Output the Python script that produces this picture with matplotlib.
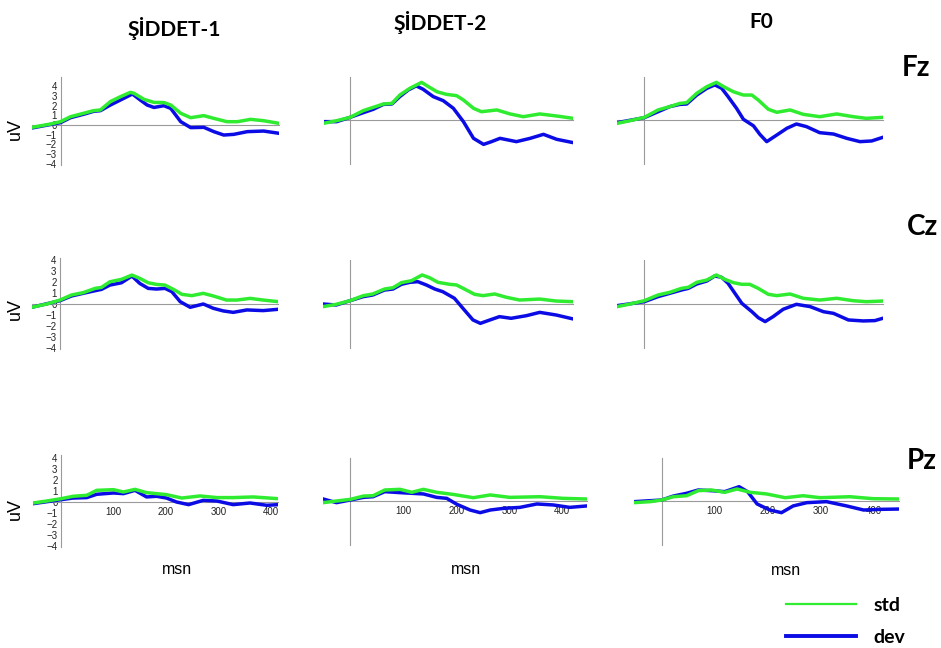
import matplotlib

matplotlib.use("Agg")
import matplotlib.pyplot as plt
from matplotlib.lines import Line2D

W, H = 941, 648
GREEN = "#30ec30"
BLUE = "#0b0be6"
AXIS_GREY = "#9a9a9a"
TITLE_FONT = ["Lato", "DejaVu Sans"]
TEXT_FONT = ["Liberation Sans", "DejaVu Sans"]

COLUMNS = ["ŞİDDET-1", "ŞİDDET-2", "F0"]
ROWS = ["Fz", "Cz", "Pz"]
X_TICKS = [100, 200, 300, 400]
Y_TICKS = [-4, -3, -2, -1, 0, 1, 2, 3, 4]

# --- Fz ---------------------------------------------------------------
FZ_S1_STD_T = [-54, -19, 0, 19, 44, 63, 76, 95, 114, 133, 140, 159, 178, 197, 210, 229, 248, 273, 292, 317, 337, 362, 387, 416]
FZ_S1_STD = [-0.24, 0.1, 0.34, 0.85, 1.2, 1.47, 1.54, 2.4, 2.9, 3.35, 3.25, 2.63, 2.32, 2.3, 2.05, 1.2, 0.75, 0.96, 0.68, 0.34, 0.34, 0.58, 0.44, 0.17]
FZ_S1_DEV_T = [-54, 0, 19, 44, 63, 76, 95, 114, 137, 152, 165, 178, 197, 210, 229, 248, 273, 292, 311, 330, 356, 387, 416]
FZ_S1_DEV = [-0.3, 0.24, 0.75, 1.1, 1.4, 1.47, 2.05, 2.56, 3.18, 2.56, 2.05, 1.8, 1.98, 1.7, 0.34, -0.27, -0.24, -0.68, -1.03, -0.96, -0.68, -0.62, -0.85]

FZ_S2_STD_T = [-50, -25, 0, 25, 44, 63, 79, 94, 113, 135, 148, 164, 182, 201, 214, 233, 248, 277, 302, 327, 358, 390, 421]
FZ_S2_STD = [-0.34, -0.07, 0.27, 0.96, 1.3, 1.64, 1.7, 2.56, 3.25, 3.86, 3.42, 2.9, 2.63, 2.5, 2.05, 1.2, 0.85, 1.03, 0.62, 0.34, 0.62, 0.41, 0.17]
FZ_S2_DEV_T = [-50, -25, 0, 25, 44, 63, 79, 94, 110, 125, 138, 157, 176, 195, 214, 233, 252, 267, 283, 314, 340, 365, 390, 421]
FZ_S2_DEV = [-0.17, -0.17, 0.27, 0.75, 1.1, 1.6, 1.64, 2.4, 3.08, 3.5, 3.15, 2.4, 1.98, 1.2, -0.17, -1.88, -2.5, -2.22, -1.88, -2.22, -1.88, -1.47, -1.98, -2.32]

FZ_F0_STD_T = [-51, -27, 0, 26, 48, 67, 80, 99, 118, 136, 152, 168, 187, 203, 215, 234, 250, 275, 300, 331, 363, 394, 419, 450]
FZ_F0_STD = [-0.34, -0.07, 0.27, 1.03, 1.37, 1.7, 1.78, 2.74, 3.42, 3.86, 3.35, 2.9, 2.56, 2.56, 2.05, 1.1, 0.79, 1.03, 0.58, 0.34, 0.62, 0.34, 0.17, 0.27]
FZ_F0_DEV_T = [-51, 0, 26, 48, 67, 80, 99, 118, 133, 146, 158, 174, 187, 206, 218, 231, 250, 269, 287, 306, 331, 357, 382, 407, 429, 450]
FZ_F0_DEV = [-0.27, 0.24, 0.85, 1.37, 1.6, 1.64, 2.56, 3.25, 3.6, 3.25, 2.4, 1.2, 0.07, -0.6, -1.47, -2.22, -1.54, -0.85, -0.41, -0.68, -1.3, -1.44, -1.88, -2.22, -2.15, -1.78]

# --- Cz ---------------------------------------------------------------
CZ_S1_STD_T = [-54, -25, 0, 22, 44, 67, 79, 95, 117, 137, 152, 168, 184, 200, 216, 232, 251, 273, 292, 317, 337, 362, 387, 416]
CZ_S1_STD = [-0.3, 0, 0.36, 0.82, 1.03, 1.42, 1.51, 2.02, 2.24, 2.63, 2.33, 1.93, 1.78, 1.72, 1.33, 0.88, 0.76, 0.97, 0.73, 0.36, 0.36, 0.51, 0.36, 0.21]
CZ_S1_DEV_T = [-54, 0, 22, 44, 67, 79, 95, 117, 137, 152, 168, 184, 200, 213, 229, 248, 273, 292, 311, 330, 356, 387, 416]
CZ_S1_DEV = [-0.3, 0.3, 0.73, 0.97, 1.21, 1.33, 1.72, 1.93, 2.54, 1.87, 1.42, 1.36, 1.42, 1.12, 0.21, -0.3, 0, -0.39, -0.63, -0.76, -0.54, -0.6, -0.48]

CZ_S2_STD_T = [-51, -26, 0, 25, 43, 65, 81, 97, 116, 136, 150, 166, 188, 201, 216, 235, 251, 273, 295, 320, 358, 389, 421]
CZ_S2_STD = [-0.24, -0.03, 0.3, 0.76, 0.91, 1.36, 1.48, 1.94, 2.12, 2.64, 2.39, 1.97, 1.79, 1.73, 1.36, 0.88, 0.76, 0.91, 0.61, 0.36, 0.45, 0.27, 0.21]
CZ_S2_DEV_T = [-51, -26, 0, 25, 43, 65, 81, 97, 113, 128, 144, 160, 175, 197, 213, 232, 246, 264, 282, 304, 333, 358, 389, 421]
CZ_S2_DEV = [0, -0.09, 0.3, 0.67, 0.82, 1.27, 1.36, 1.79, 1.97, 2.03, 1.73, 1.36, 1.12, 0.52, -0.39, -1.45, -1.76, -1.45, -1.15, -1.3, -1.06, -0.76, -1.0, -1.36]

CZ_F0_STD_T = [-51, -27, 0, 26, 48, 70, 83, 99, 118, 136, 152, 168, 184, 199, 215, 234, 250, 275, 300, 331, 363, 394, 419, 450]
CZ_F0_STD = [-0.24, 0, 0.3, 0.82, 1.06, 1.42, 1.52, 1.97, 2.18, 2.64, 2.24, 1.94, 1.79, 1.79, 1.42, 0.88, 0.76, 0.91, 0.52, 0.36, 0.52, 0.3, 0.21, 0.27]
CZ_F0_DEV_T = [-51, 0, 26, 48, 70, 83, 99, 118, 133, 146, 158, 171, 184, 203, 215, 228, 243, 262, 287, 313, 338, 357, 385, 413, 435, 450]
CZ_F0_DEV = [-0.15, 0.21, 0.67, 0.97, 1.27, 1.42, 1.82, 2.09, 2.55, 2.42, 1.88, 0.97, 0.06, -0.7, -1.24, -1.6, -1.15, -0.48, -0.03, -0.24, -0.7, -0.85, -1.45, -1.54, -1.51, -1.3]

# --- Pz ---------------------------------------------------------------
PZ_S1_STD_T = [-53, -27, 0, 23, 49, 68, 100, 119, 141, 163, 182, 201, 230, 265, 297, 328, 366, 414]
PZ_S1_STD = [-0.09, 0.09, 0.3, 0.52, 0.61, 1.06, 1.12, 0.91, 1.15, 0.85, 0.76, 0.67, 0.36, 0.55, 0.4, 0.4, 0.46, 0.3]
PZ_S1_DEV_T = [-53, 0, 23, 49, 68, 100, 119, 141, 163, 182, 201, 220, 243, 271, 297, 328, 360, 392, 414]
PZ_S1_DEV = [-0.15, 0.21, 0.36, 0.4, 0.7, 0.82, 0.76, 1.06, 0.46, 0.52, 0.36, 0, -0.24, 0.15, 0.09, -0.24, -0.09, -0.3, -0.24]

PZ_S2_STD_T = [-51, -26, 0, 25, 43, 65, 94, 116, 138, 163, 194, 232, 264, 301, 358, 402, 446]
PZ_S2_STD = [-0.15, 0, 0.15, 0.45, 0.48, 1.0, 1.06, 0.79, 1.06, 0.79, 0.6, 0.3, 0.55, 0.33, 0.39, 0.24, 0.18]
PZ_S2_DEV_T = [-51, -26, 0, 25, 43, 65, 94, 116, 138, 163, 182, 201, 226, 245, 264, 289, 320, 352, 383, 414, 446]
PZ_S2_DEV = [0.18, -0.15, 0.09, 0.33, 0.39, 0.85, 0.76, 0.7, 0.64, 0.33, 0.24, -0.3, -0.82, -1.06, -0.82, -0.67, -0.58, -0.27, -0.36, -0.58, -0.45]

PZ_F0_STD_T = [-52, -22, 0, 22, 47, 69, 94, 119, 142, 167, 198, 233, 267, 299, 355, 399, 448]
PZ_F0_STD = [-0.15, -0.06, 0.09, 0.39, 0.48, 0.94, 1.0, 0.79, 1.09, 0.79, 0.64, 0.3, 0.48, 0.3, 0.39, 0.21, 0.18]
PZ_F0_DEV_T = [-52, 0, 22, 47, 69, 94, 119, 146, 162, 180, 204, 226, 248, 274, 311, 349, 381, 412, 448]
PZ_F0_DEV = [-0.06, 0.09, 0.45, 0.7, 1.0, 0.94, 0.85, 1.3, 0.85, -0.27, -0.82, -1.06, -0.45, -0.15, -0.06, -0.45, -0.82, -0.76, -0.73]

SERIES = [
    [(FZ_S1_STD_T, FZ_S1_STD, FZ_S1_DEV_T, FZ_S1_DEV),
     (FZ_S2_STD_T, FZ_S2_STD, FZ_S2_DEV_T, FZ_S2_DEV),
     (FZ_F0_STD_T, FZ_F0_STD, FZ_F0_DEV_T, FZ_F0_DEV)],
    [(CZ_S1_STD_T, CZ_S1_STD, CZ_S1_DEV_T, CZ_S1_DEV),
     (CZ_S2_STD_T, CZ_S2_STD, CZ_S2_DEV_T, CZ_S2_DEV),
     (CZ_F0_STD_T, CZ_F0_STD, CZ_F0_DEV_T, CZ_F0_DEV)],
    [(PZ_S1_STD_T, PZ_S1_STD, PZ_S1_DEV_T, PZ_S1_DEV),
     (PZ_S2_STD_T, PZ_S2_STD, PZ_S2_DEV_T, PZ_S2_DEV),
     (PZ_F0_STD_T, PZ_F0_STD, PZ_F0_DEV_T, PZ_F0_DEV)],
]

# pixel layout per panel: (x of t=0, y of 0 uV, ylo, yhi, px per ms, px per uV)
LAYOUT = [
    [(60.5, 125, -4.1, 4.9, 0.525, 9.75), (350, 120, -4.5, 4.4, 0.53, 9.75), (644.3, 120, -4.5, 4.4, 0.53, 9.75)],
    [(60.0, 304, -4.1, 4.2, 0.525, 11.0), (350, 304, -4.0, 4.0, 0.53, 11.0), (644.3, 304, -4.0, 4.0, 0.53, 11.0)],
    [(61.0, 502, -4.1, 4.3, 0.525, 11.0), (350.3, 501, -4.0, 3.9, 0.53, 11.0), (661.7, 501, -4.0, 3.9, 0.53, 11.0)],
]
UV_Y = [129, 309, 509]
MSN_POS = [(177, 562), (466, 562), (786, 563)]
TITLE_POS = [(174, 28), (440, 22), (761, 22)]
ROW_POS = [(916, 68), (923, 227), (922, 461)]

fig = plt.figure(figsize=(W / 100, H / 100), dpi=100)

for r in range(3):
    for c in range(3):
        std_t, std_v, dev_t, dev_v = SERIES[r][c]
        x0, y0, ylo, yhi, pxms, pxuv = LAYOUT[r][c]
        tmin = min(std_t[0], dev_t[0])
        tmax = max(std_t[-1], dev_t[-1])
        left = x0 + tmin * pxms
        width = (tmax - tmin) * pxms
        top = y0 - yhi * pxuv
        height = (yhi - ylo) * pxuv
        ax = fig.add_axes([left / W, 1 - (top + height) / H, width / W, height / H])
        ax.set_xlim(tmin, tmax)
        ax.set_ylim(ylo, yhi)
        ax.patch.set_alpha(0)

        ax.plot(dev_t, dev_v, color=BLUE, lw=2.5, solid_joinstyle="round", zorder=3)
        ax.plot(std_t, std_v, color=GREEN, lw=2.5, solid_joinstyle="round", zorder=4)

        for side in ("top", "right"):
            ax.spines[side].set_visible(False)
        for side in ("left", "bottom"):
            ax.spines[side].set_position(("data", 0))
            ax.spines[side].set_color(AXIS_GREY)
            ax.spines[side].set_linewidth(0.8)
        ax.tick_params(length=0, labelsize=7, labelcolor="#222222")

        if c == 0:
            ax.set_yticks(Y_TICKS)
            ax.tick_params(axis="y", pad=2.5)
            for lbl in ax.get_yticklabels():
                lbl.set_fontfamily(TEXT_FONT)
            ax.set_ylabel("uV", fontsize=13, family=TEXT_FONT)
            ax.yaxis.set_label_coords((24 - left) / width, (top + height - UV_Y[r]) / height)
        else:
            ax.set_yticks([])

        if r == 2:
            ax.set_xticks(X_TICKS)
            ax.tick_params(axis="x", pad=3.5)
            for lbl in ax.get_xticklabels():
                lbl.set_fontfamily(TEXT_FONT)
                lbl.set_clip_box(ax.bbox)
                lbl.set_clip_on(True)
            mx, my = MSN_POS[c]
            ax.set_xlabel("msn", fontsize=11.5, family=TEXT_FONT)
            ax.xaxis.set_label_coords((mx - left) / width, (top + height - my) / height)
        else:
            ax.set_xticks([])

for name, (tx, ty) in zip(COLUMNS, TITLE_POS):
    fig.text(tx / W, 1 - ty / H, name, ha="center", va="center",
             fontsize=15, fontweight="bold", family=TITLE_FONT)
for name, (tx, ty) in zip(ROWS, ROW_POS):
    fig.text(tx / W, 1 - ty / H, name, ha="center", va="center",
             fontsize=20, fontweight="bold", family=TITLE_FONT)

handles = [Line2D([], [], color=GREEN, lw=1.6), Line2D([], [], color=BLUE, lw=2.8)]
fig.legend(handles, ["std", "dev"], loc="upper left",
           bbox_to_anchor=(786 / W, 1 - 597 / H), frameon=False,
           handlelength=3.6, handletextpad=0.9, labelspacing=0.78,
           borderpad=0, borderaxespad=0,
           prop={"family": TITLE_FONT, "weight": "bold", "size": 14})

fig.savefig("out.png", dpi=100)
